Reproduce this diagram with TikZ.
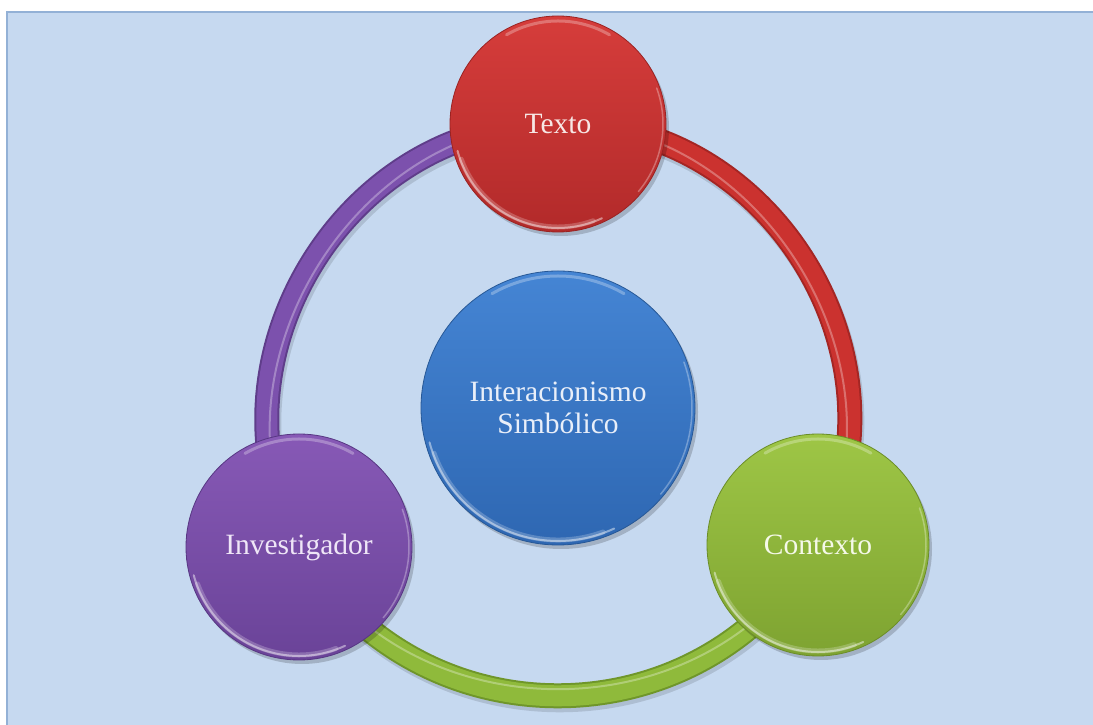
\documentclass[tikz,border=0pt]{standalone}
\usepackage{fontspec}
\setmainfont{Liberation Serif}
\usetikzlibrary{shadows}
\pgfdeclarelayer{bglayer}
\pgfdeclarelayer{ringlayer}
\pgfsetlayers{bglayer,ringlayer,main}
\definecolor{bgblue}{HTML}{C6D9F0}
\definecolor{bordercol}{HTML}{93B1D6}
\definecolor{redT}{HTML}{D63D3B}
\definecolor{redB}{HTML}{B22A2A}
\definecolor{redD}{HTML}{9A2322}
\definecolor{redTxt}{HTML}{F7E7E5}
\definecolor{purT}{HTML}{8759B6}
\definecolor{purB}{HTML}{6A4398}
\definecolor{purD}{HTML}{573783}
\definecolor{purTxt}{HTML}{EFE6F7}
\definecolor{grnT}{HTML}{9EC646}
\definecolor{grnB}{HTML}{7EA331}
\definecolor{grnD}{HTML}{6B8D28}
\definecolor{grnTxt}{HTML}{F5F9E9}
\definecolor{bluT}{HTML}{4585D4}
\definecolor{bluB}{HTML}{2E67B2}
\definecolor{bluD}{HTML}{275896}
\definecolor{bluTxt}{HTML}{E9EFF9}
\definecolor{ringR}{HTML}{CB322F}
\definecolor{ringRD}{HTML}{A42624}
\definecolor{ringP}{HTML}{7C51AD}
\definecolor{ringPD}{HTML}{5F3D8A}
\definecolor{ringG}{HTML}{8FBA3B}
\definecolor{ringGD}{HTML}{6F962A}
\newcommand\btnshine[2]{%
  \draw[white, opacity=.22, line width=5, line cap=round]
    (#1.center) ++(200:#2-5) arc[start angle=200, end angle=290, radius=#2-5];
  \draw[white, opacity=.45, line width=2, line cap=round]
    (#1.center) ++(195:#2-4) arc[start angle=195, end angle=295, radius=#2-4];
  \draw[white, opacity=.28, line width=3, line cap=round]
    (#1.center) ++(60:#2-5) arc[start angle=60, end angle=120, radius=#2-5];
  \draw[white, opacity=.30, line width=1.5, line cap=round]
    (#1.center) ++(-40:#2-3) arc[start angle=-40, end angle=20, radius=#2-3];
}
\tikzset{
  btn/.style={circle, inner sep=0pt, line width=0.8pt, align=center,
    font=\fontsize{29.5}{32}\selectfont,
    drop shadow={shadow xshift=3pt, shadow yshift=-4pt, opacity=.18, fill=black}},
  ringbase/.style={line width=25pt, line cap=butt},
  ringmain/.style={line width=21pt, line cap=butt},
  ringhl/.style={line width=2pt, line cap=butt, white, opacity=.3},
  arcbend/.style={bend left=60, looseness=1.09},
  arcbendin/.style={bend left=60, looseness=1.04},
  arcbendg/.style={bend left=60, looseness=1.135},
  arcbendgin/.style={bend left=60, looseness=1.085},
}
\begin{document}
\begin{tikzpicture}[x=1pt,y=1pt]
\useasboundingbox (0,0) rectangle (1093,725);
\begin{pgfonlayer}{bglayer}
  \fill[white] (0,0) rectangle (1093,725);
  \fill[bgblue] (6,0) rectangle (1093,713);
  \draw[bordercol, line width=1.6pt] (6.8,0) -- (6.8,713) -- (1093,713);
\end{pgfonlayer}

\node[btn, minimum size=216pt, top color=redT, bottom color=redB, draw=redD, text=redTxt] (texto) at (558,601) {Texto};
\node[btn, minimum size=222pt, top color=grnT, bottom color=grnB, draw=grnD, text=grnTxt] (contexto) at (818,180) {Contexto};
\node[btn, minimum size=226pt, top color=purT, bottom color=purB, draw=purD, text=purTxt] (invest) at (299,178) {Investigador};
\node[btn, minimum size=274pt, top color=bluT, bottom color=bluB, draw=bluD, text=bluTxt] (centro) at (558,317) {Interacionismo\\Simbólico};

\btnshine{texto}{108}
\btnshine{contexto}{111}
\btnshine{invest}{113}
\btnshine{centro}{137}

\begin{pgfonlayer}{ringlayer}
  \begin{scope}[transform canvas={shift={(2pt,-4pt)}}]
    \draw[ringbase, black, opacity=.12] (texto.center) to[arcbend] (contexto.center);
    \draw[ringbase, black, opacity=.12] (contexto.center) to[arcbendg] (invest.center);
    \draw[ringbase, black, opacity=.12] (invest.center) to[arcbend] (texto.center);
  \end{scope}
  \draw[ringbase, ringRD] (texto.center) to[arcbend] (contexto.center);
  \draw[ringmain, ringR] (texto.center) to[arcbend] (contexto.center);
  \draw[ringhl] (texto.center) to[arcbendin] (contexto.center);
  \draw[ringbase, ringGD] (contexto.center) to[arcbendg] (invest.center);
  \draw[ringmain, ringG] (contexto.center) to[arcbendg] (invest.center);
  \draw[ringhl] (contexto.center) to[arcbendgin] (invest.center);
  \draw[ringbase, ringPD] (invest.center) to[arcbend] (texto.center);
  \draw[ringmain, ringP] (invest.center) to[arcbend] (texto.center);
  \draw[ringhl] (invest.center) to[arcbendin] (texto.center);
\end{pgfonlayer}
\end{tikzpicture}
\end{document}
